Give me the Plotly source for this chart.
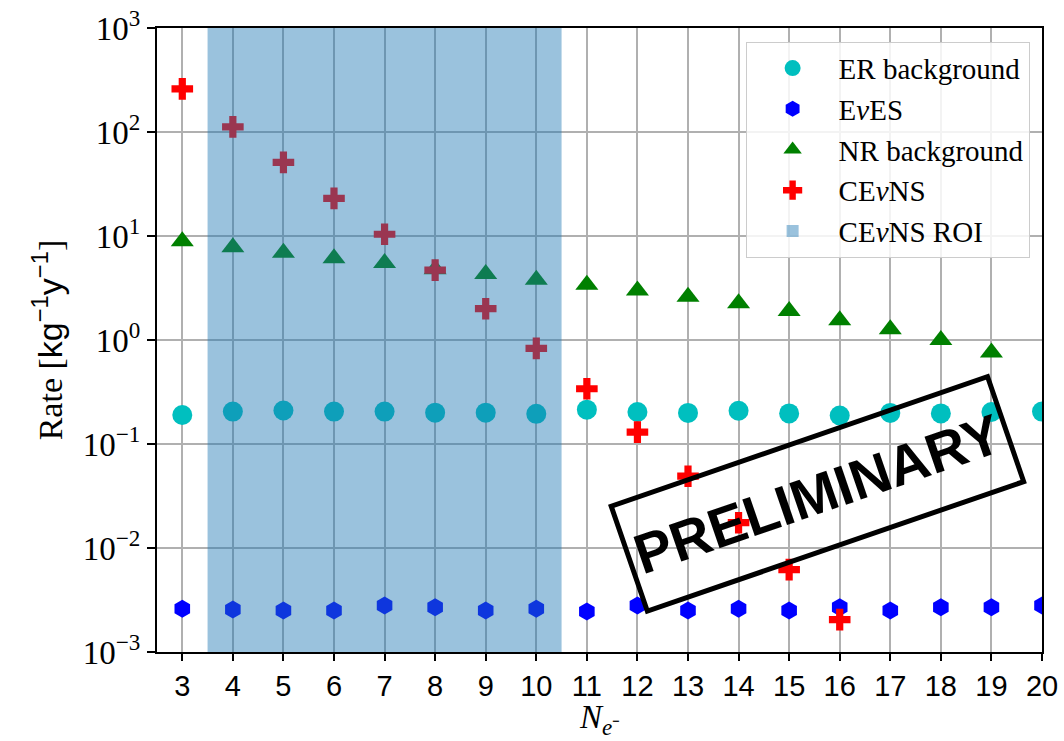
import math
import plotly.graph_objects as go

# Number of ionised electrons per event
n_electrons = list(range(3, 21))

# Expected rates [kg^-1 y^-1] per electron bin
er_background = [0.19, 0.205, 0.21, 0.205, 0.205, 0.2, 0.2, 0.195, 0.214, 0.203,
                 0.199, 0.209, 0.197, 0.188, 0.199, 0.197, 0.203, 0.205]
eves = [0.0026, 0.00256, 0.0025, 0.0025, 0.0028, 0.0027, 0.0025, 0.0026, 0.00245,
        0.0028, 0.0025, 0.0026, 0.0025, 0.0027, 0.0025, 0.0027, 0.0027, 0.0028]
nr_x = list(range(3, 20))
nr_background = [8.9, 7.8, 6.9, 6.1, 5.5, 4.8, 4.3, 3.8, 3.4, 3.0, 2.6, 2.25,
                 1.9, 1.55, 1.27, 1.0, 0.76]
cevns_x = list(range(3, 17))
cevns = [260, 112, 51, 23, 10.4, 4.7, 2.0, 0.83, 0.34, 0.13, 0.049, 0.0175,
         0.0062, 0.00205]

# Region of interest (first and last bin included)
roi_bins = (4, 10)

# Axis settings
x_range = (2.5, 20)
y_log_range = (-3, 3)
decades = list(range(y_log_range[0], y_log_range[1] + 1))
x_ticks = list(range(3, 21))
minor_y = [m * 10.0 ** d for d in decades[:-1] for m in range(2, 10)]

WIDTH, HEIGHT = 1064, 741
MARGIN = dict(l=157, r=22, t=28, b=89)
plot_w = WIDTH - MARGIN["l"] - MARGIN["r"]
px_per_unit = plot_w / (x_range[1] - x_range[0])
minor_len = 5  # px

SERIF = "Liberation Serif"
SANS = "Liberation Sans"
NU = "<i>\u03bd</i>"

fig = go.Figure()

fig.add_trace(go.Scatter(
    x=n_electrons, y=er_background, mode="markers", name="ER background",
    marker=dict(symbol="circle", size=20, color="#00bfbf", line=dict(width=0)),
))
fig.add_trace(go.Scatter(
    x=n_electrons, y=eves, mode="markers", name=f"E{NU}ES",
    marker=dict(symbol="hexagon", size=18, color="#0000ff", line=dict(width=0)),
))
fig.add_trace(go.Scatter(
    x=nr_x, y=nr_background, mode="markers", name="NR background",
    marker=dict(symbol="triangle-up", size=20, color="#008000", line=dict(width=0)),
))
fig.add_trace(go.Scatter(
    x=cevns_x, y=cevns, mode="markers", name=f"CE{NU}NS",
    marker=dict(symbol="cross", size=18, color="#ff0000", line=dict(width=0)),
))

# Minor log ticks just outside the left spine
fig.add_trace(go.Scatter(
    x=[x_range[0] - (minor_len / 2 + 1) / px_per_unit] * len(minor_y), y=minor_y,
    mode="markers", cliponaxis=False, showlegend=False, hoverinfo="skip",
    marker=dict(symbol="line-ew", size=minor_len, color="black",
                line=dict(color="black", width=1.3)),
))

# ROI band drawn on top of the markers, semi-transparent
fig.add_shape(
    type="rect", xref="x", yref="paper",
    x0=roi_bins[0] - 0.5, x1=roi_bins[1] + 0.5, y0=0, y1=1,
    fillcolor="rgba(31,119,180,0.45)", line=dict(width=0),
    layer="above", showlegend=True, name=f"CE{NU}NS ROI",
)

# PRELIMINARY stamp
fig.add_annotation(
    xref="paper", yref="paper", x=0.746, y=0.253,
    xanchor="center", yanchor="middle",
    text="<b>PRELIMINARY</b>", showarrow=False, textangle=-19,
    font=dict(family=SANS, size=56, color="black"),
    width=385, height=98, borderpad=4,
    bordercolor="black", borderwidth=5, bgcolor="rgba(0,0,0,0)",
)

# x-axis title
fig.add_annotation(
    xref="paper", yref="paper", x=0.5, y=-0.0725,
    xanchor="center", yanchor="top", showarrow=False,
    text="<i>N</i><sub><i>e</i>\u207b</sub>",
    font=dict(family=SERIF, size=33, color="black"),
)

fig.update_xaxes(
    range=list(x_range), tickmode="array", tickvals=x_ticks,
    ticks="outside", ticklen=7, tickwidth=1.5, tickcolor="black",
    tickfont=dict(family=SANS, size=29, color="black"),
    showgrid=True, gridcolor="#b0b0b0", gridwidth=1.5,
    showline=True, linecolor="black", linewidth=2, mirror=True,
    zeroline=False, automargin=False,
)

fig.update_yaxes(
    type="log", range=list(y_log_range), tickmode="array",
    tickvals=[10.0 ** d for d in decades],
    ticktext=[f"10<sup>{str(d).replace('-', '\u2212')}</sup>" for d in decades],
    ticks="outside", ticklen=8, tickwidth=1.5, tickcolor="black",
    tickfont=dict(family=SERIF, size=33, color="black"),
    showgrid=True, gridcolor="#b0b0b0", gridwidth=1.5,
    showline=True, linecolor="black", linewidth=2, mirror=True,
    zeroline=False, automargin=False,
    title=dict(text="Rate [<span style='font-family:Liberation Sans'>kg<sup>\u22121</sup>y<sup>\u22121</sup></span>]",
               font=dict(family=SERIF, size=34, color="black"), standoff=10),
)

fig.update_layout(
    width=WIDTH, height=HEIGHT,
    margin=MARGIN,
    paper_bgcolor="white", plot_bgcolor="white",
    showlegend=True,
    legend=dict(
        x=0.986, y=0.978, xanchor="right", yanchor="top",
        bgcolor="rgba(255,255,255,0.85)", bordercolor="#cccccc", borderwidth=1,
        font=dict(family=SERIF, size=29, color="black"),
        itemwidth=82, itemsizing="trace",
    ),
)

fig.write_html("out.html")
